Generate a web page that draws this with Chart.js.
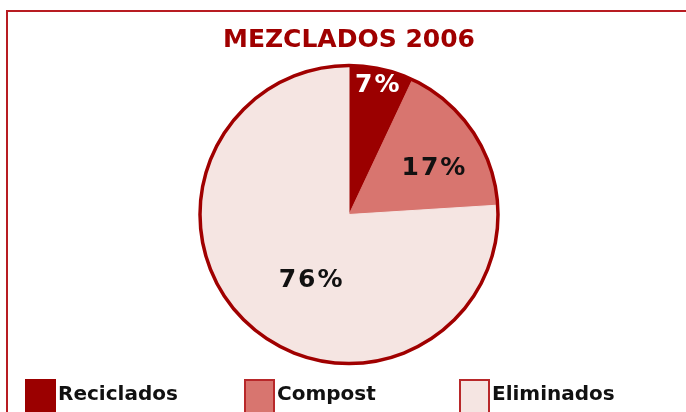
<!DOCTYPE html>
<html>
<head>
<meta charset="utf-8">
<script src="https://cdn.jsdelivr.net/npm/chart.js@4.4.1/dist/chart.umd.min.js"></script>
<style>
  body { margin: 0; background: #ffffff; }
  #wrap { position: relative; width: 686px; height: 412px; overflow: hidden; }
  #frame {
    position: absolute; left: 6px; top: 10px; width: 700px; height: 420px;
    border-left: 2px solid #b81c22; border-top: 2px solid #b81c22;
    pointer-events: none;
  }
</style>
</head>
<body>
<div id="wrap">
  <canvas id="mezclados" width="686" height="412"></canvas>
  <div id="frame"></div>
</div>
<script>
// Chart data
var categories = ['Reciclados', 'Compost', 'Eliminados'];
var values = [7, 17, 76];
var valueLabels = ['7%', '17%', '76%'];

// Slice colours
var sliceColors = ['#9b0000', '#d8756f', '#f5e5e2'];
var labelColors = ['#ffffff', '#111111', '#111111'];

// Where each value label sits: fraction along the slice angle, fraction of the radius
var labelAngleFrac = [0.51, 0.60, 0.45];
var labelRadiusFrac = [0.885, 0.65, 0.51];

// Draws the dark red ring round the whole pie (no lines between slices).
var outerRing = {
    id: 'outerRing',
    afterDatasetsDraw: function (chart) {
        var arc = chart.getDatasetMeta(0).data[0];
        var ctx = chart.ctx;
        ctx.save();
        ctx.beginPath();
        ctx.arc(arc.x, arc.y, arc.outerRadius, 0, Math.PI * 2);
        ctx.lineWidth = 3.5;
        ctx.strokeStyle = '#a00000';
        ctx.stroke();
        ctx.restore();
    }
};

// Writes the percentage inside each slice.
var sliceLabels = {
    id: 'sliceLabels',
    afterDatasetsDraw: function (chart) {
        var ctx = chart.ctx;
        ctx.save();
        ctx.font = 'bold 25px "DejaVu Sans"';
        ctx.letterSpacing = '2px';
        ctx.textAlign = 'center';
        ctx.textBaseline = 'middle';
        chart.getDatasetMeta(0).data.forEach(function (arc, i) {
            var a = arc.startAngle + labelAngleFrac[i] * (arc.endAngle - arc.startAngle);
            var r = labelRadiusFrac[i] * arc.outerRadius;
            ctx.fillStyle = labelColors[i];
            ctx.fillText(valueLabels[i], arc.x + Math.cos(a) * r, arc.y + Math.sin(a) * r);
        });
        ctx.restore();
    }
};

// Legend in fixed columns along the bottom edge.
var legendColumns = [25, 244, 459];
var bottomLegend = {
    id: 'bottomLegend',
    afterDraw: function (chart) {
        var ctx = chart.ctx;
        ctx.save();
        chart.data.labels.forEach(function (label, i) {
            var x = legendColumns[i];
            ctx.fillStyle = sliceColors[i];
            ctx.fillRect(x, 379, 31, 34);
            if (i > 0) {
                ctx.lineWidth = 2;
                ctx.strokeStyle = '#b8282a';
                ctx.strokeRect(x + 1, 380, 29, 34);
            }
            ctx.fillStyle = '#111111';
            ctx.font = 'bold 20px "DejaVu Sans"';
            ctx.textBaseline = 'middle';
            ctx.fillText(label, x + 33, 395);
        });
        ctx.restore();
    }
};

var ctx = document.getElementById('mezclados').getContext('2d');
new Chart(ctx, {
    type: 'pie',
    data: {
        labels: categories,
        datasets: [{
            data: values,
            backgroundColor: sliceColors,
            borderColor: sliceColors,
            borderWidth: 1
        }]
    },
    options: {
        responsive: false,
        animation: false,
        devicePixelRatio: 1,
        layout: { padding: { left: 12, right: 0, top: 0, bottom: 48 } },
        plugins: {
            legend: { display: false },
            tooltip: { enabled: false },
            title: {
                display: true,
                text: 'MEZCLADOS 2006',
                color: '#a00000',
                font: { family: 'DejaVu Sans', size: 25, weight: 'bold' },
                padding: { top: 25, bottom: 10 }
            }
        }
    },
    plugins: [outerRing, sliceLabels, bottomLegend]
});
</script>
</body>
</html>
